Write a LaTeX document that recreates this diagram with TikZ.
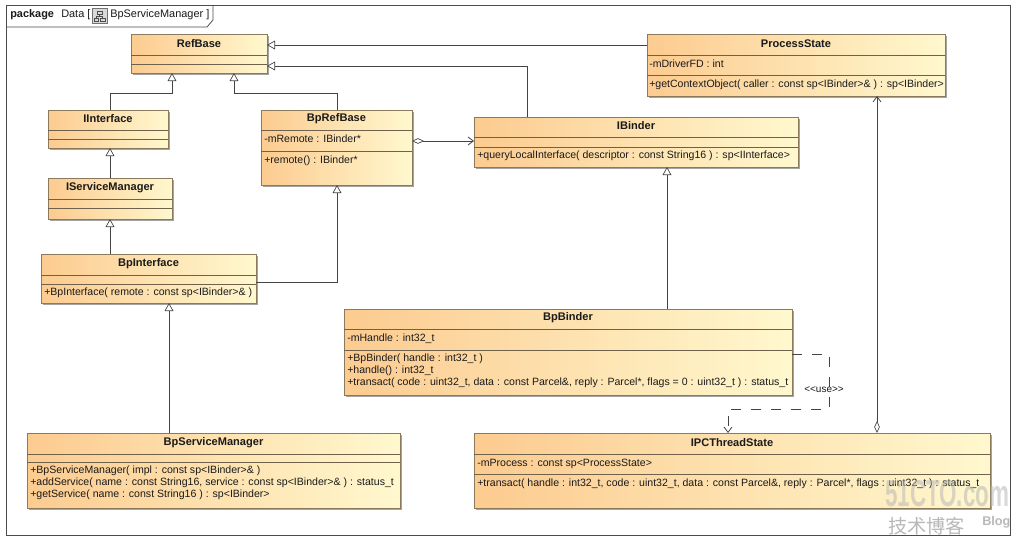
\documentclass[tikz,border=0pt]{standalone}
\usepackage{fontspec}
\usetikzlibrary{arrows.meta,shadows,calc}
\newfontfamily\umlfont{Liberation Sans}
\newfontfamily\cjkmark{Noto Sans CJK SC}
\definecolor{boxleft}{HTML}{FCCB90}
\definecolor{boxright}{HTML}{FFF8CE}
\definecolor{edgeink}{HTML}{8C7A5C}
\definecolor{lineink}{HTML}{444444}
\definecolor{textink}{HTML}{1A1A1A}
\def\pxu{0.75pt}
\tikzset{
  x=\pxu,y=-\pxu,
  classbox/.style={draw=edgeink,line width=0.6pt,left color=boxleft,right color=boxright,shading angle=90,anchor=north west,inner sep=0pt,outer sep=0pt,
    drop shadow={shadow xshift=1.6pt,shadow yshift=-1.6pt,fill=black!45,opacity=.8}},
  divider/.style={draw=edgeink!80!black,line width=0.5pt},
  titletext/.style={font=\umlfont\bfseries\fontsize{8.3}{9}\selectfont,text=textink,inner sep=0pt},
  membertext/.style={font=\umlfont\fontsize{7.92}{9}\selectfont,text=textink,inner sep=0pt,anchor=north west,align=left},
  pkgtext/.style={font=\umlfont\fontsize{8.2}{9}\selectfont,inner sep=0pt,anchor=west,text=textink},
  conn/.style={draw=lineink,line width=0.6pt},
  gen/.style={conn,-{Triangle[open,fill=white,length=6pt,width=6.6pt,line width=0.5pt]}},
  aggr/.style={conn,{Diamond[open,fill=white,length=9pt,width=4.2pt,line width=0.5pt]}-{Straight Barb[length=4pt,width=6pt,line width=0.6pt]}},
  depend/.style={conn,dash pattern=on 7.5pt off 7.5pt,-{Straight Barb[length=4pt,width=6pt,line width=0.6pt]}},
}
\newcommand\umlclass[8]{%
  \pgfmathsetmacro\bw{(#4-#2)*0.75}\pgfmathsetmacro\bh{(#5-#3)*0.75}%
  \node[classbox,minimum width=\bw pt,minimum height=\bh pt] (#1) at (#2,#3) {};
  \draw[divider] (#2,#6) -- (#4,#6);
  \draw[divider] (#2,#7) -- (#4,#7);
  \pgfmathsetmacro\bcx{(#2+#4)/2}\pgfmathsetmacro\bcy{(#3+#6)/2-1}%
  \node[titletext] (#1title) at (\bcx,\bcy) {#8};
}
\begin{document}
\begin{tikzpicture}
\useasboundingbox (0,0) rectangle (1024,550);
\fill[white] (0,0) rectangle (1024,550);
% frame
\coordinate (frameTL) at (6,5);
\coordinate (frameBR) at (1010,535);
\draw[draw=black!70,line width=0.6pt] (frameTL) rectangle (frameBR);
\draw[draw=black!70,line width=0.6pt] (6,27) -- (207,27) -- (213,20) -- (213,5);
\node[pkgtext,font=\umlfont\bfseries\fontsize{8.2}{9}\selectfont] (pkg) at (10,14.5) {package};
\node[pkgtext] (pkgname) at (61,14.5) {Data [};
\node[pkgtext] (pkgdiag) at (110,14.5) {BpServiceManager ]};
% icon
\fill[black!15] (92,8) rectangle (107,23);
\draw[black!55,line width=0.4pt] (92,8) rectangle (107,23);
\draw[black!70,line width=0.4pt] (97,11) rectangle (102,14.5) (94,18) rectangle (98.5,21.5) (100.5,18) rectangle (105,21.5)
  (99.5,14.5) -- (99.5,16.5) (96.3,18) -- (96.3,16.5) -- (102.7,16.5) -- (102.7,18);

% classes
\umlclass{refbase}{131}{34}{267}{73}{55}{64}{RefBase}
\umlclass{iinterface}{48}{110}{168}{148}{130}{139}{IInterface}
\umlclass{iservice}{48}{178}{172}{219}{199}{208}{IServiceManager}
\umlclass{bprefbase}{261}{110}{412}{185}{130}{151}{BpRefBase}
\node[membertext] (bprefattr) at (264,135) {-mRemote : IBinder*};
\node[membertext] (bprefop) at (264,156) {+remote() : IBinder*};
\umlclass{ibinder}{474}{117}{798}{167}{137}{147}{IBinder}
\node[membertext] (ibinderop) at (477,151) {+queryLocalInterface( descriptor : const String16 ) : sp<IInterface>};
\umlclass{process}{647}{34}{945}{96}{55}{75}{ProcessState}
\node[membertext] (procattr) at (649,60) {-mDriverFD : int};
\node[membertext] (procop) at (649,80) {+getContextObject( caller : const sp<IBinder>\& ) : sp<IBinder>};
\umlclass{bpinterface}{41}{254}{256}{303}{275}{284}{BpInterface}
\node[membertext] (bpintop) at (44,288) {+BpInterface( remote : const sp<IBinder>\& )};
\umlclass{bpbinder}{344}{309}{792}{395}{329}{350}{BpBinder}
\node[membertext] (bpbattr) at (347,334) {-mHandle : int32\_t};
\node[membertext] (bpbop) at (347,354) {+BpBinder( handle : int32\_t )\\+handle() : int32\_t\\+transact( code : uint32\_t, data : const Parcel\&, reply : Parcel*, flags = 0 : uint32\_t ) : status\_t};
\umlclass{bpservice}{27}{433}{400}{508}{454}{462}{BpServiceManager}
\node[membertext] (bpsop) at (30,466) {+BpServiceManager( impl : const sp<IBinder>\& )\\+addService( name : const String16, service : const sp<IBinder>\& ) : status\_t\\+getService( name : const String16 ) : sp<IBinder>};
\umlclass{ipc}{474}{433}{990}{508}{454}{474}{IPCThreadState}
\node[membertext] (ipcattr) at (477,459) {-mProcess : const sp<ProcessState>};
\node[membertext] (ipcop) at (477,479) {+transact( handle : int32\_t, code : uint32\_t, data : const Parcel\&, reply : Parcel*, flags : uint32\_t ) : status\_t};

% generalisations
\draw[gen] (process.west |- 0,45) -- (refbase.east |- 0,45);
\draw[gen] (ibinder.north -| 527,0) -- (527,66) -- (refbase.east |- 0,66);
\draw[gen] (iinterface.north -| 110,0) -- (110,93) -- (172,93) -- (refbase.south -| 172,0);
\draw[gen] (bprefbase.north -| 337,0) -- (337,93) -- (234,93) -- (refbase.south -| 234,0);
\draw[gen] (iservice.north -| 110,0) -- (iinterface.south -| 110,0);
\draw[gen] (bpinterface.north -| 110,0) -- (iservice.south -| 110,0);
\draw[gen] (bpinterface.east |- 0,282) -- (337,282) -- (bprefbase.south -| 337,0);
\draw[gen] (bpservice.north -| 169,0) -- (bpinterface.south -| 169,0);
\draw[gen] (bpbinder.north -| 667,0) -- (ibinder.south -| 667,0);
% association and aggregation
\draw[aggr] (bprefbase.east |- 0,141) -- (ibinder.west |- 0,141);
\draw[aggr] (ipc.north -| 877,0) -- (process.south -| 877,0);
% use dependency
\draw[depend] (bpbinder.east |- 0,354) -- (829,354) -- (829,409) -- (728,409) -- (ipc.north -| 728,0);
\node[font=\umlfont\fontsize{7.5}{8}\selectfont,inner sep=0pt,text=textink] (uselabel) at (824,390) {<{}<use>{}>};

% watermark
\node[font=\umlfont\bfseries\fontsize{28}{28}\selectfont,text=black!28,opacity=.55,inner sep=0pt,anchor=west,xscale=.6,transform shape] (markA) at (885,494) {51CTO.com};
\node[font=\cjkmark\fontsize{14.4}{15}\selectfont,text=black!28,inner sep=0pt,anchor=west] (markB) at (888,526) {技术博客};
\node[font=\umlfont\bfseries\fontsize{9.5}{10}\selectfont,text=black!28,inner sep=0pt,anchor=west] (markC) at (982,522) {Blog};
\end{tikzpicture}
\end{document}
